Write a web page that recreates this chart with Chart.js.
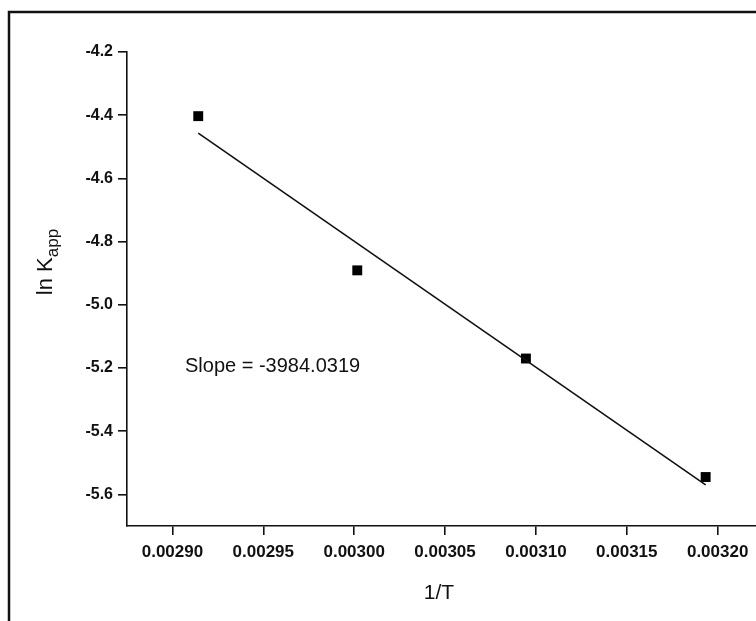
<!DOCTYPE html>
<html>
<head>
<meta charset="utf-8">
<script src="https://cdn.jsdelivr.net/npm/chart.js@4.4.1/dist/chart.umd.min.js"></script>
<style>
  html, body { margin: 0; padding: 0; background: #fff; overflow: hidden; }
  #wrap { position: relative; width: 756px; height: 621px; }
  canvas { position: absolute; left: 0; top: 0; }
</style>
</head>
<body>
<div id="wrap"><canvas id="c" width="756" height="621"></canvas></div>
<script>
// Data
const invT = [0.0029142, 0.0030017, 0.0030945, 0.0031934];
const lnKapp = [-4.403, -4.891, -5.170, -5.545];
// Linear fit line end points, as drawn
const fitX = [0.0029142, 0.0031934];
const fitY = [-4.457, -5.570];
// Tick labels
const xTicks = [0.00290, 0.00295, 0.00300, 0.00305, 0.00310, 0.00315, 0.00320];
const yTicks = [-4.2, -4.4, -4.6, -4.8, -5.0, -5.2, -5.4, -5.6];
const xTitle = '1/T';
const yTitleMain = 'ln K';
const yTitleSub = 'app';
const slopeText = 'Slope = -3984.0319';

const FONT = '"Liberation Sans", Arial, sans-serif';

const decor = {
  id: 'decor',
  beforeDraw(chart) {
    const ctx = chart.ctx;
    ctx.save();
    ctx.fillStyle = '#fff';
    ctx.fillRect(0, 0, chart.width, chart.height);
    // outer frame
    ctx.strokeStyle = '#111';
    ctx.lineWidth = 2.5;
    ctx.beginPath();
    ctx.moveTo(9, 700);
    ctx.lineTo(9, 12);
    ctx.lineTo(800, 12);
    ctx.stroke();
    ctx.restore();
  },
  afterDraw(chart) {
    const ctx = chart.ctx;
    ctx.save();
    ctx.fillStyle = '#111';
    // x title
    ctx.font = '21px ' + FONT;
    ctx.textAlign = 'center';
    ctx.textBaseline = 'middle';
    ctx.fillText(xTitle, 439, 593);
    // slope text
    ctx.font = '20px ' + FONT;
    ctx.textAlign = 'left';
    ctx.fillText(slopeText, 185, 366);
    // y title rotated, with subscript
    ctx.translate(46, 262);
    ctx.rotate(-Math.PI / 2);
    ctx.font = '22px ' + FONT;
    const w1 = ctx.measureText(yTitleMain).width;
    ctx.font = '17px ' + FONT;
    const w2 = ctx.measureText(yTitleSub).width;
    const start = -(w1 + w2) / 2;
    ctx.textAlign = 'left';
    ctx.font = '22px ' + FONT;
    ctx.fillText(yTitleMain, start, 0);
    ctx.font = '17px ' + FONT;
    ctx.fillText(yTitleSub, start + w1, 7);
    ctx.restore();
  }
};

new Chart(document.getElementById('c'), {
  type: 'scatter',
  data: {
    datasets: [
      {
        type: 'line',
        data: fitX.map((x, i) => ({ x, y: fitY[i] })),
        borderColor: '#111',
        borderWidth: 1.6,
        pointRadius: 0,
        fill: false
      },
      {
        data: invT.map((x, i) => ({ x, y: lnKapp[i] })),
        pointStyle: 'rect',
        pointRadius: 7,
        backgroundColor: '#000',
        borderColor: '#000',
        borderWidth: 0
      }
    ]
  },
  options: {
    responsive: false,
    animation: false,
    devicePixelRatio: 1,
    layout: { autoPadding: false, padding: { left: 0, top: 52, right: 0, bottom: 0 } },
    plugins: { legend: { display: false }, tooltip: { enabled: false } },
    scales: {
      x: {
        type: 'linear',
        min: 0.002875,
        max: 0.0032211,
        afterBuildTicks(scale) { scale.ticks = xTicks.map(v => ({ value: v })); },
        afterFit(scale) { scale.height = 95; scale.paddingLeft = 0; scale.paddingRight = 0; },
        border: { display: true, color: '#111', width: 1.6 },
        grid: { display: true, drawOnChartArea: false, drawTicks: true, tickLength: 9, color: '#111', lineWidth: 1.6 },
        ticks: {
          color: '#111',
          padding: 7,
          maxRotation: 0,
          autoSkip: false,
          font: { family: FONT, size: 17, weight: 'bold' },
          callback: v => v.toFixed(5)
        }
      },
      y: {
        type: 'linear',
        min: -5.7,
        max: -4.2,
        afterBuildTicks(scale) { scale.ticks = yTicks.map(v => ({ value: v })); },
        afterFit(scale) { scale.width = 127; scale.paddingTop = 0; scale.paddingBottom = 0; },
        border: { display: true, color: '#111', width: 1.6 },
        grid: { display: true, drawOnChartArea: false, drawTicks: true, tickLength: 9, color: '#111', lineWidth: 1.6 },
        ticks: {
          color: '#111',
          padding: 5,
          autoSkip: false,
          font: { family: FONT, size: 16, weight: 'bold' },
          callback: v => v.toFixed(1)
        }
      }
    }
  },
  plugins: [decor]
});
</script>
</body>
</html>
